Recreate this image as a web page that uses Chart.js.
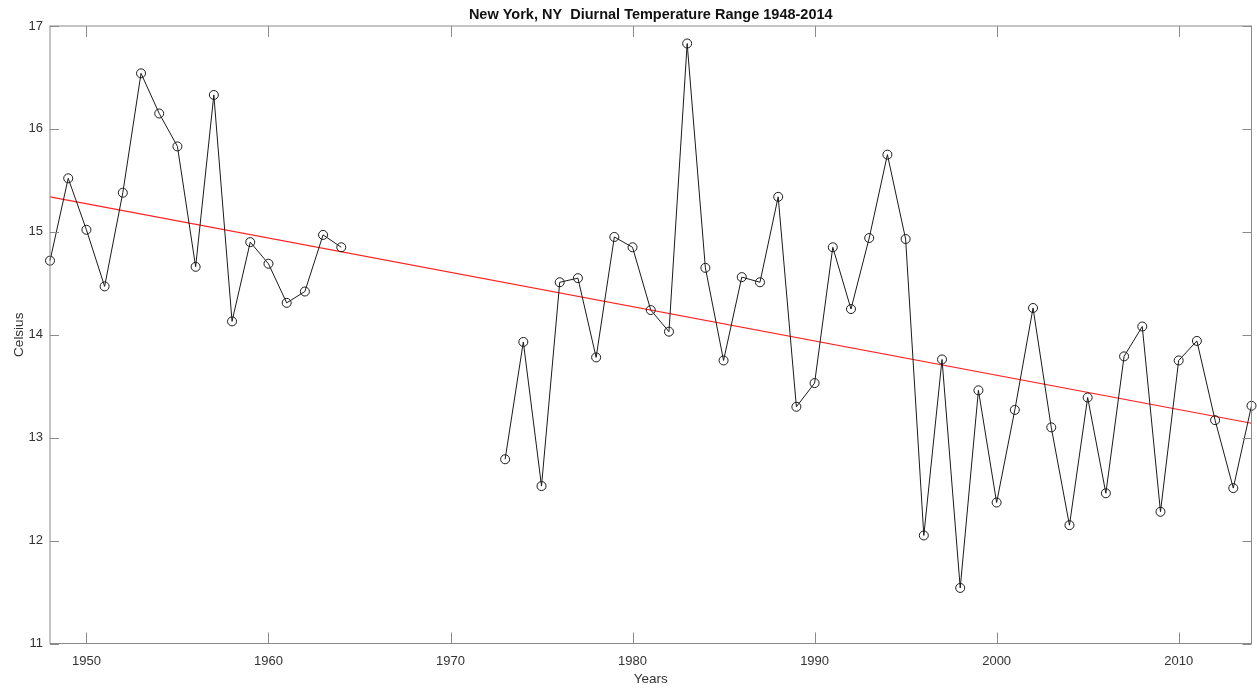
<!DOCTYPE html>
<html>
<head>
<meta charset="utf-8">
<title>New York, NY Diurnal Temperature Range 1948-2014</title>
<script src="https://cdn.jsdelivr.net/npm/chart.js@4/dist/chart.umd.min.js"></script>
<style>
  html, body { margin: 0; padding: 0; background: #ffffff; }
  #wrap { width: 1257px; height: 688px; position: relative; }
</style>
</head>
<body>
<div id="wrap"><canvas id="dtrChart"></canvas></div>
<script>
// data (°C), null = missing years
const years = [
  1948, 1949, 1950, 1951, 1952, 1953, 1954, 1955, 1956, 1957, 1958, 1959,
  1960, 1961, 1962, 1963, 1964, 1965, 1966, 1967, 1968, 1969, 1970, 1971,
  1972, 1973, 1974, 1975, 1976, 1977, 1978, 1979, 1980, 1981, 1982, 1983,
  1984, 1985, 1986, 1987, 1988, 1989, 1990, 1991, 1992, 1993, 1994, 1995,
  1996, 1997, 1998, 1999, 2000, 2001, 2002, 2003, 2004, 2005, 2006, 2007,
  2008, 2009, 2010, 2011, 2012, 2013, 2014,
];
const dtrValues = [
  14.72, 15.52, 15.02, 14.47, 15.38, 16.54, 16.15, 15.83, 14.66, 16.33, 14.13, 14.90,
  14.69, 14.31, 14.42, 14.97, 14.85, null, null, null, null, null, null, null,
  null, 12.79, 13.93, 12.53, 14.51, 14.55, 13.78, 14.95, 14.85, 14.24, 14.03, 16.83,
  14.65, 13.75, 14.56, 14.51, 15.34, 13.30, 13.53, 14.85, 14.25, 14.94, 15.75, 14.93,
  12.05, 13.76, 11.54, 13.46, 12.37, 13.27, 14.26, 13.10, 12.15, 13.39, 12.46, 13.79,
  14.08, 12.28, 13.75, 13.94, 13.17, 12.51, 13.31,
];
const trendYears = [1948, 2014];
const trendValues = [15.34, 13.14];
const xTicks = [1950, 1960, 1970, 1980, 1990, 2000, 2010];
const yTicks = [11, 12, 13, 14, 15, 16, 17];

const chartTitle = "New York, NY  Diurnal Temperature Range 1948-2014";
const fontFamily = "'Liberation Sans', Arial, sans-serif";
const axisColor = "#8a8a8a";
const textColor = "#333333";

// MATLAB style box with inward ticks on all four sides + title over the plot
const boxAxesPlugin = {
  id: "boxAxes",
  afterDraw(chart) {
    const { ctx, chartArea: a, scales } = chart;
    ctx.save();
    ctx.strokeStyle = axisColor;
    ctx.lineWidth = 1;
    ctx.strokeRect(a.left, a.top, a.right - a.left, a.bottom - a.top);
    ctx.beginPath();
    xTicks.forEach((t) => {
      const px = Math.round(scales.x.getPixelForValue(t)) + 0.5;
      ctx.moveTo(px, a.bottom);
      ctx.lineTo(px, a.bottom - 11);
      ctx.moveTo(px, a.top);
      ctx.lineTo(px, a.top + 11);
    });
    yTicks.forEach((t) => {
      const py = Math.round(scales.y.getPixelForValue(t)) + 0.5;
      ctx.moveTo(a.left, py);
      ctx.lineTo(a.left + 9, py);
      ctx.moveTo(a.right, py);
      ctx.lineTo(a.right - 9, py);
    });
    ctx.stroke();

    ctx.fillStyle = "#111111";
    ctx.font = "bold 14.5px " + fontFamily;
    ctx.textAlign = "center";
    ctx.textBaseline = "middle";
    ctx.fillText(chartTitle, (a.left + a.right) / 2, 15);
    ctx.restore();
  },
};

function initChart() {
  const canvas = document.getElementById("dtrChart");
  const points = years.map((yr, i) => ({ x: yr, y: dtrValues[i] }));
  const trend = trendYears.map((yr, i) => ({ x: yr, y: trendValues[i] }));

  return new Chart(canvas.getContext("2d"), {
    type: "line",
    data: {
      datasets: [
        {
          label: "DTR",
          data: points,
          borderColor: "#1a1a1a",
          borderWidth: 1,
          pointStyle: "circle",
          pointRadius: 4.5,
          pointBorderWidth: 1,
          pointBorderColor: "#1a1a1a",
          pointBackgroundColor: "rgba(0,0,0,0)",
          spanGaps: false,
          tension: 0,
          clip: false,
        },
        {
          label: "Trend",
          data: trend,
          borderColor: "#ff2020",
          borderWidth: 1.2,
          pointRadius: 0,
          tension: 0,
        },
      ],
    },
    options: {
      responsive: true,
      maintainAspectRatio: false,
      animation: false,
      layout: { padding: { top: 26, right: 4, bottom: 0, left: 0 } },
      plugins: {
        legend: { display: false },
        title: { display: false },
        tooltip: { enabled: false },
      },
      scales: {
        x: {
          type: "linear",
          min: 1948,
          max: 2014,
          grid: { display: false, drawTicks: false },
          border: { display: false },
          afterBuildTicks: (scale) => {
            scale.ticks = xTicks.map((v) => ({ value: v }));
          },
          afterFit: (scale) => {
            scale.height = 44.5;
          },
          ticks: {
            padding: 10,
            color: textColor,
            font: { family: fontFamily, size: 13 },
            callback: (v) => String(v),
          },
          title: {
            display: true,
            text: "Years",
            color: textColor,
            font: { family: fontFamily, size: 13.5 },
            padding: { top: 0, bottom: 1 },
          },
        },
        y: {
          min: 11,
          max: 17,
          grid: { display: false, drawTicks: false },
          border: { display: false },
          afterBuildTicks: (scale) => {
            scale.ticks = yTicks.map((v) => ({ value: v }));
          },
          afterFit: (scale) => {
            scale.width = 50;
          },
          ticks: {
            padding: 7,
            color: textColor,
            font: { family: fontFamily, size: 13 },
          },
          title: {
            display: true,
            text: "Celsius",
            color: textColor,
            font: { family: fontFamily, size: 13.5 },
            padding: { top: 11, bottom: 0 },
          },
        },
      },
    },
    plugins: [boxAxesPlugin],
  });
}

document.addEventListener("DOMContentLoaded", initChart);
</script>
</body>
</html>
